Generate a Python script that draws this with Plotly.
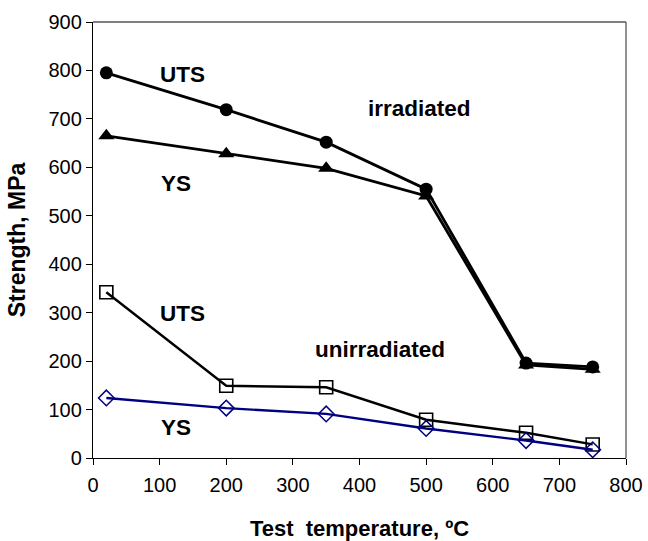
import plotly.graph_objects as go

# Test temperatures (ºC)
temperature = [20, 200, 350, 500, 650, 750]

# Strength values (MPa)
uts_irradiated = [795, 719, 652, 555, 196, 188]
ys_irradiated = [665, 628, 598, 541, 192, 183]
uts_unirradiated = [342, 149, 146, 79, 52, 28]
ys_unirradiated = [124, 103, 91, 61, 36, 17]

x_ticks = [0, 100, 200, 300, 400, 500, 600, 700, 800]
y_ticks = [0, 100, 200, 300, 400, 500, 600, 700, 800, 900]

FONT = "Liberation Sans, Arial, sans-serif"

fig = go.Figure()

fig.add_trace(go.Scatter(
    x=temperature, y=uts_irradiated, mode="lines+markers",
    line=dict(color="black", width=2.8),
    marker=dict(symbol="circle", size=13, color="black"),
    name="UTS irradiated"))
fig.add_trace(go.Scatter(
    x=temperature, y=ys_irradiated, mode="lines+markers",
    line=dict(color="black", width=2.8),
    marker=dict(symbol="triangle-up", size=14, color="black"),
    name="YS irradiated"))
fig.add_trace(go.Scatter(
    x=temperature, y=uts_unirradiated, mode="lines+markers",
    line=dict(color="black", width=2.4),
    marker=dict(symbol="square-open", size=13, color="black",
                line=dict(width=1.6, color="black")),
    name="UTS unirradiated"))
fig.add_trace(go.Scatter(
    x=temperature, y=ys_unirradiated, mode="lines+markers",
    line=dict(color="#000080", width=2.4),
    marker=dict(symbol="diamond-open", size=12, color="#000080",
                line=dict(width=1.5, color="#000080")),
    name="YS unirradiated"))

labels = [
    ("UTS", 135, 792),
    ("irradiated", 490, 722),
    ("YS", 125, 567),
    ("UTS", 135, 299),
    ("unirradiated", 431, 224),
    ("YS", 125, 62),
]
for text, lx, ly in labels:
    fig.add_annotation(x=lx, y=ly, text=f"<b>{text}</b>", showarrow=False,
                       font=dict(family=FONT, size=22.5, color="black"),
                       xanchor="center", yanchor="middle")

# top and right frame lines
fig.add_shape(type="line", xref="paper", yref="paper", x0=0, x1=1, y0=1, y1=1,
              line=dict(color="#555555", width=1.3))
fig.add_shape(type="line", xref="paper", yref="paper", x0=1, x1=1, y0=0, y1=1,
              line=dict(color="#555555", width=1.3))

fig.update_layout(
    width=648, height=541,
    margin=dict(l=93, r=22, t=22, b=83, autoexpand=False),
    paper_bgcolor="white", plot_bgcolor="white",
    showlegend=False,
    font=dict(family=FONT, color="black"),
)
fig.update_xaxes(
    range=[0, 800], tickvals=x_ticks, ticks="outside", ticklen=6,
    tickwidth=1.3, tickcolor="black", showline=True, linecolor="black",
    linewidth=1.3, showgrid=False, zeroline=False, automargin=False,
    tickfont=dict(family=FONT, size=20), ticklabelstandoff=3,
    title=dict(text="<b>Test  temperature, ºC</b>", standoff=26,
               font=dict(family=FONT, size=22)),
)
fig.update_yaxes(
    range=[0, 900], tickvals=y_ticks, ticks="outside", ticklen=6,
    tickwidth=1.3, tickcolor="black", showline=True, linecolor="black",
    linewidth=1.3, showgrid=False, zeroline=False, automargin=False,
    tickfont=dict(family=FONT, size=20),
    title=dict(text="<b>Strength, MPa</b>", standoff=16,
               font=dict(family=FONT, size=23)),
)

fig.write_html("out.html")
